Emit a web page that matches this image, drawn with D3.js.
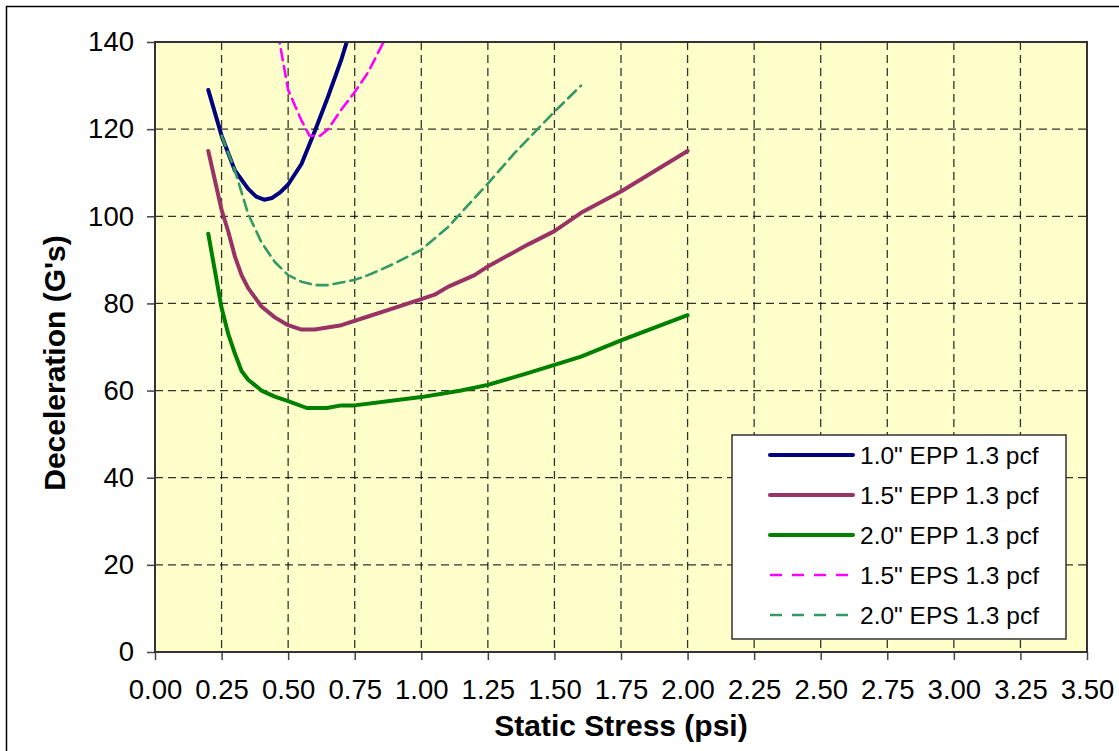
<!DOCTYPE html>
<html>
<head>
<meta charset="utf-8">
<script src="https://cdn.jsdelivr.net/npm/d3@7"></script>
<style>
  html, body { margin: 0; padding: 0; background: #ffffff; }
  svg { display: block; font-family: "Liberation Sans", Arial, sans-serif; }
</style>
</head>
<body>
<svg id="chart" width="1119" height="751"></svg>
<script>
// Deceleration vs. static stress for EPP / EPS cushions, 1.3 pcf density

const xTicks = [0, 0.25, 0.5, 0.75, 1, 1.25, 1.5, 1.75, 2, 2.25, 2.5, 2.75, 3, 3.25, 3.5];
const yTicks = [0, 20, 40, 60, 80, 100, 120, 140];

const seriesNames = [
  '1.0" EPP 1.3 pcf',
  '1.5" EPP 1.3 pcf',
  '2.0" EPP 1.3 pcf',
  '1.5" EPS 1.3 pcf',
  '2.0" EPS 1.3 pcf'
];

// 1.0" EPP
const epp10x = [0.2, 0.25, 0.3, 0.35, 0.38, 0.41, 0.44, 0.47, 0.5, 0.55, 0.6, 0.65, 0.7, 0.75];
const epp10y = [129, 118.5, 110.5, 106.3, 104.5, 103.8, 104.2, 105.5, 107.3, 112, 119.5, 127.5, 136, 146];

// 1.5" EPP
const epp15x = [0.2, 0.25, 0.275, 0.3, 0.325, 0.35, 0.4, 0.45, 0.5, 0.55, 0.6, 0.7, 0.8, 0.9, 1.0, 1.05, 1.1, 1.2, 1.25, 1.4, 1.5, 1.6, 1.75, 2.0];
const epp15y = [115, 101.5, 96.5, 90.8, 86.5, 83.5, 79.3, 76.8, 75, 74, 74, 75, 77, 79, 81, 82, 83.8, 86.5, 88.5, 93.5, 96.6, 100.8, 105.7, 115];

// 2.0" EPP
const epp20x = [0.2, 0.25, 0.275, 0.3, 0.325, 0.35, 0.4, 0.45, 0.5, 0.57, 0.6, 0.645, 0.7, 0.75, 1.0, 1.15, 1.25, 1.4, 1.6, 1.75, 2.0];
const epp20y = [96, 79, 73, 68.5, 64.5, 62.5, 60, 58.6, 57.6, 56, 56, 56, 56.6, 56.6, 58.5, 60, 61.3, 64, 67.8, 71.5, 77.3];

// 1.5" EPS
const eps15x = [0.45, 0.5, 0.55, 0.58, 0.62, 0.65, 0.7, 0.75, 0.8, 0.85, 0.9];
const eps15y = [146, 129, 122, 118.5, 118.5, 120, 124.5, 128.5, 133, 139, 145];

// 2.0" EPS
const eps20x = [0.25, 0.3, 0.35, 0.4, 0.45, 0.5, 0.55, 0.6, 0.65, 0.7, 0.75, 0.8, 0.85, 0.9, 1.0, 1.1, 1.25, 1.35, 1.5, 1.6];
const eps20y = [118.5, 110.5, 100.5, 94, 89.5, 86.5, 85, 84.2, 84.2, 84.8, 85.4, 86.5, 87.8, 89.2, 92.3, 97.5, 107.5, 114.5, 124, 130];

const seriesX = [epp10x, epp15x, epp20x, eps15x, eps20x];
const seriesY = [epp10y, epp15y, epp20y, eps15y, eps20y];
const colors = ["#000080", "#993366", "#008000", "#FF00FF", "#339966"];
const widths = [4, 4, 4, 2.6, 2.6];
const dashes = [null, null, null, "11,6", "11,6"];

const svg = d3.select("#chart");
const plot = { left: 155, right: 1087, top: 42, bottom: 652 };

const x = d3.scaleLinear().domain([0, 3.5]).range([plot.left, plot.right]);
const y = d3.scaleLinear().domain([0, 140]).range([plot.bottom, plot.top]);

// outer chart frame
svg.append("rect")
  .attr("x", 6.5).attr("y", 6.5)
  .attr("width", 1130).attr("height", 760)
  .attr("fill", "#ffffff").attr("stroke", "#000").attr("stroke-width", 1.5);

// plot background
svg.append("rect")
  .attr("x", plot.left).attr("y", plot.top)
  .attr("width", plot.right - plot.left).attr("height", plot.bottom - plot.top)
  .attr("fill", "#FFFFCC");

svg.append("clipPath").attr("id", "plotClip")
  .append("rect")
  .attr("x", plot.left).attr("y", plot.top)
  .attr("width", plot.right - plot.left).attr("height", plot.bottom - plot.top);

// dashed grid
const grid = svg.append("g");
grid.selectAll("line.v").data(xTicks.slice(1, -1)).join("line")
  .attr("x1", d => x(d)).attr("x2", d => x(d))
  .attr("y1", plot.top).attr("y2", plot.bottom)
  .attr("stroke", "#000").attr("stroke-opacity", 0.8).attr("stroke-width", 1.3)
  .attr("stroke-dasharray", "8,5");
grid.selectAll("line.h").data(yTicks.slice(1, -1)).join("line")
  .attr("x1", plot.left).attr("x2", plot.right)
  .attr("y1", d => y(d)).attr("y2", d => y(d))
  .attr("stroke", "#000").attr("stroke-opacity", 0.8).attr("stroke-width", 1.3)
  .attr("stroke-dasharray", "8,5");

// axes
const xAxis = d3.axisBottom(x).tickValues(xTicks).tickFormat(d3.format(".2f"))
  .tickSizeInner(8).tickSizeOuter(0).tickPadding(19);
const yAxis = d3.axisLeft(y).tickValues(yTicks).tickFormat(d3.format("d"))
  .tickSizeInner(8).tickSizeOuter(0).tickPadding(13);

const gx = svg.append("g").attr("transform", `translate(0,${plot.bottom})`).call(xAxis);
const gy = svg.append("g").attr("transform", `translate(${plot.left},0)`).call(yAxis);
[gx, gy].forEach(g => {
  g.select(".domain").remove();
  g.selectAll(".tick line").attr("stroke", "#444").attr("stroke-width", 1.5);
  g.selectAll(".tick text").attr("fill", "#000")
    .style("font-family", "'Liberation Sans', Arial, sans-serif").style("font-size", "27.5px");
});

// series lines
const linesG = svg.append("g").attr("clip-path", "url(#plotClip)");
seriesX.forEach((xs, i) => {
  const pts = xs.map((v, k) => [v, seriesY[i][k]]);
  linesG.append("path")
    .datum(pts)
    .attr("d", d3.line().x(d => x(d[0])).y(d => y(d[1])))
    .attr("fill", "none")
    .attr("stroke", colors[i])
    .attr("stroke-width", widths[i])
    .attr("stroke-linejoin", "round")
    .attr("stroke-linecap", "round")
    .attr("stroke-dasharray", dashes[i]);
});

// plot frame
svg.append("rect")
  .attr("x", plot.left).attr("y", plot.top)
  .attr("width", plot.right - plot.left).attr("height", plot.bottom - plot.top)
  .attr("fill", "none").attr("stroke", "#333").attr("stroke-width", 2);

// axis titles
svg.append("text")
  .attr("x", (plot.left + plot.right) / 2).attr("y", 736)
  .attr("text-anchor", "middle")
  .style("font-size", "30px").style("font-weight", "bold")
  .text("Static Stress (psi)");
svg.append("text")
  .attr("transform", "translate(65,363) rotate(-90)")
  .attr("text-anchor", "middle")
  .style("font-size", "30px").style("font-weight", "bold")
  .text("Deceleration (G's)");

// legend
const legend = svg.append("g");
legend.append("rect")
  .attr("x", 732).attr("y", 435).attr("width", 334).attr("height", 204)
  .attr("fill", "#fff").attr("stroke", "#333").attr("stroke-width", 1.5);
const rowY = [455, 495, 535, 575, 615];
seriesNames.forEach((name, i) => {
  legend.append("line")
    .attr("x1", 770).attr("x2", 853)
    .attr("y1", rowY[i]).attr("y2", rowY[i])
    .attr("stroke", colors[i]).attr("stroke-width", widths[i])
    .attr("stroke-linecap", dashes[i] ? "butt" : "round")
    .attr("stroke-dasharray", dashes[i] ? "12,10" : null);
  legend.append("text")
    .attr("x", 860).attr("y", rowY[i]).attr("dy", "0.35em")
    .style("font-size", "24.5px")
    .text(name);
});
</script>
</body>
</html>
